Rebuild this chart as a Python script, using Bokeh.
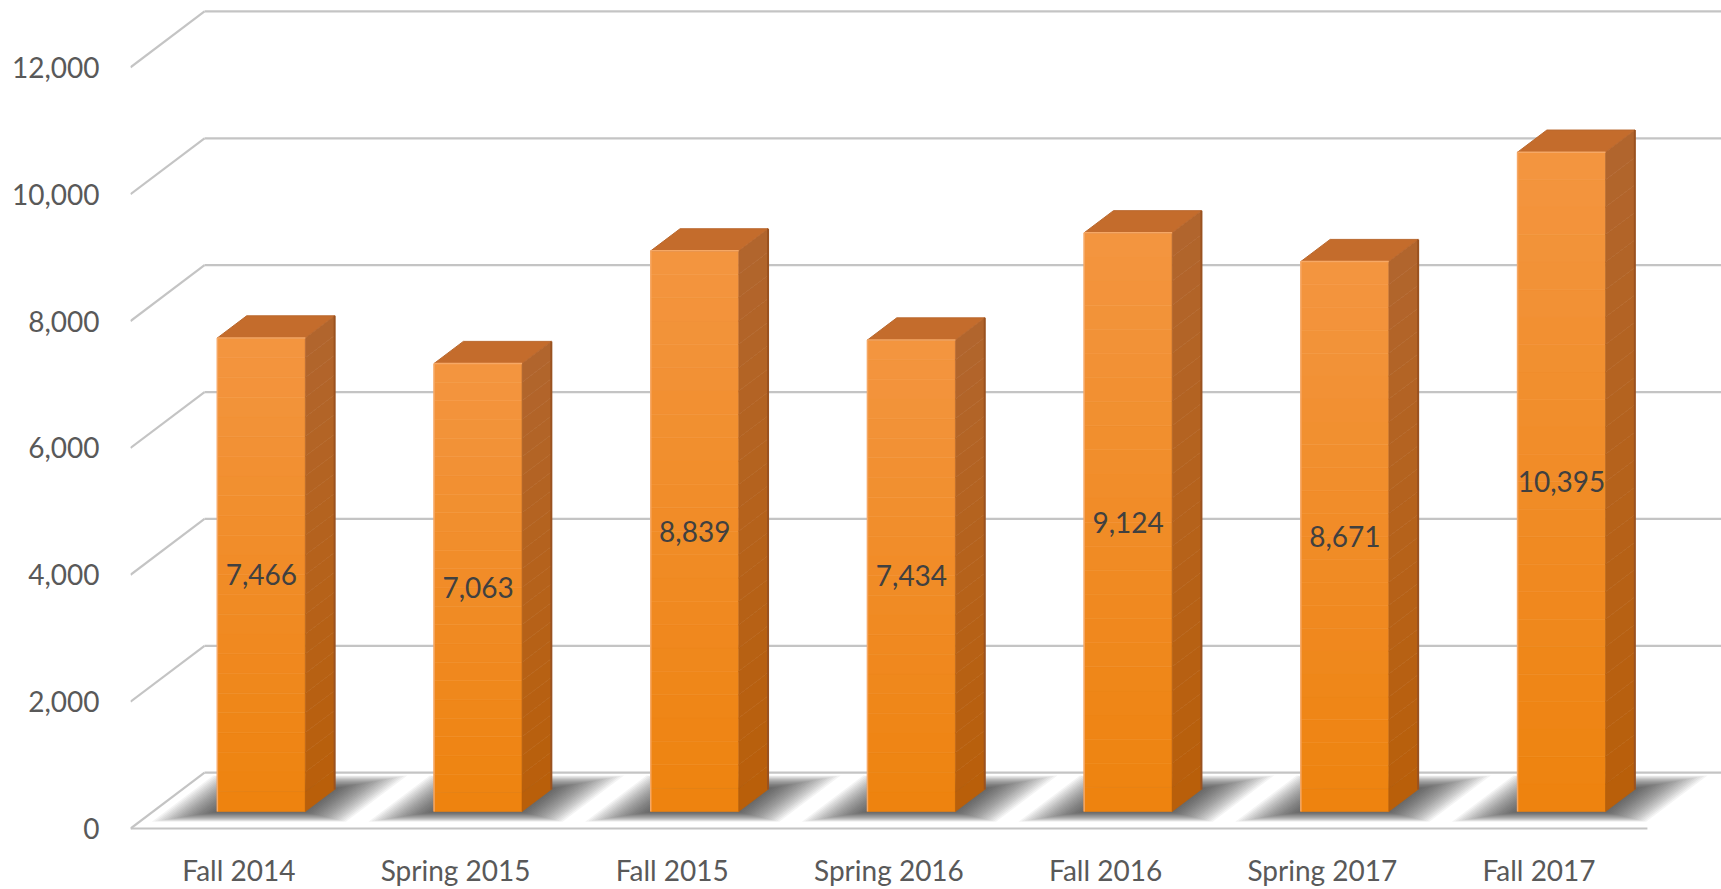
from bokeh.plotting import figure
from bokeh.models import Range1d, FixedTicker, NumeralTickFormatter, CustomJSTickFormatter
from bokeh.core.properties import value
from bokeh.embed import file_html
from bokeh.resources import INLINE

# ---- data ----
categories = ["Fall 2014", "Spring 2015", "Fall 2015", "Spring 2016",
              "Fall 2016", "Spring 2017", "Fall 2017"]
enrollment = [7466, 7063, 8839, 7434, 9124, 8671, 10395]
y_ticks = [0, 2000, 4000, 6000, 8000, 10000, 12000]

# ---- layout / projection (styling only) ----
W, H = 1721, 889
LEFT, BOTTOM = 130, 56
frame_w = W - LEFT
frame_h = H - BOTTOM
CAT_PX = 216.7
S = 763 / 12000      # px per value unit
ZERO_Y = 830         # px from top of frame for value 0 at front plane
DX = 74 / CAT_PX     # depth offset (x, category units)
DV = 56 / S          # depth offset (y, value units)
F0, F1 = 0.304, 0.70  # bar depth (front/back fraction)
BW = 0.406           # bar width (category units)

x_start, x_end = 0.0, frame_w / CAT_PX
y_start, y_end = -(frame_h - ZERO_Y) / S, ZERO_Y / S

p = figure(width=W, height=H, x_range=Range1d(x_start, x_end),
           y_range=Range1d(y_start, y_end), output_backend="svg",
           toolbar_location=None, min_border_left=LEFT, min_border_right=0,
           min_border_top=0, min_border_bottom=BOTTOM)
p.outline_line_color = None
p.grid.visible = False
p.background_fill_color = "white"
p.border_fill_color = "white"

FONT = "Lato"
for ax in (p.yaxis[0], p.xaxis[0]):
    ax.axis_line_color = None
    ax.major_tick_line_color = None
    ax.minor_tick_line_color = None
    ax.major_tick_out = 0
    ax.major_tick_in = 0
    ax.major_label_text_font = FONT
    ax.major_label_text_font_size = "28px"
    ax.major_label_text_color = "#595959"

p.yaxis.ticker = FixedTicker(ticks=y_ticks)
p.yaxis.formatter = NumeralTickFormatter(format="0,0")
p.yaxis.major_label_standoff = 31

n = len(categories)
p.xaxis.ticker = FixedTicker(ticks=[i + 0.5 for i in range(n)])
p.xaxis.formatter = CustomJSTickFormatter(args=dict(labels=categories),
                                          code="return labels[Math.round(tick - 0.5)];")
p.xaxis.major_label_standoff = 21

# ---- walls / gridlines ----
gx0, gy0, gx1, gy1 = [], [], [], []
for v in y_ticks:
    gx0 += [DX, 0]
    gy0 += [v + DV, v]
    gx1 += [n + DX + 0.05, DX]
    gy1 += [v + DV, v + DV]
gx0.append(0); gy0.append(0); gx1.append(n); gy1.append(0)
p.segment(gx0, gy0, gx1, gy1, line_color="#c4c4c4", line_width=2.2)

# ---- floor shadows (soft, layered) ----
NL = 22
for k in range(NL):
    t = k / (NL - 1)
    ml = 0.24 * (1 - t)
    mr = 0.25 * (1 - t)
    d0 = 0.12 * (1 - t) + 0.30 * t
    d1 = 0.95 * (1 - t) + 0.72 * t
    xs, ys = [], []
    for i in range(n):
        xl = i + 0.5 - BW / 2 - ml
        xr = i + 0.5 + BW / 2 + mr
        xs.append([xl + d0 * DX, xr + d0 * DX, xr + d1 * DX, xl + d1 * DX])
        ys.append([d0 * DV, d0 * DV, d1 * DV, d1 * DV])
    p.patches(xs, ys, fill_color="#2a2a2a", fill_alpha=0.05, line_color=None)

# ---- bars ----
def mix(c1, c2, t):
    a = [int(c1[k:k + 2], 16) for k in (1, 3, 5)]
    b = [int(c2[k:k + 2], 16) for k in (1, 3, 5)]
    return "#%02x%02x%02x" % tuple(round(a[j] + (b[j] - a[j]) * t) for j in range(3))

NB = 24
fl, fr, fb, ft, fc = [], [], [], [], []
sxs, sys_, scs = [], [], []
txs, tys = [], []
for i, v in enumerate(enrollment):
    xl = i + 0.5 - BW / 2
    xr = i + 0.5 + BW / 2
    for k in range(NB):
        t = k / (NB - 1)
        fl.append(xl + F0 * DX); fr.append(xr + F0 * DX)
        fb.append(F0 * DV + v * k / NB); ft.append(F0 * DV + v * (k + 1) / NB)
        fc.append(mix("#ee830f", "#f3953f", t))
        y_lo = v * k / NB
        y_hi = v * (k + 1) / NB
        sxs.append([xr + F0 * DX, xr + F1 * DX, xr + F1 * DX, xr + F0 * DX])
        sys_.append([y_lo + F0 * DV, y_lo + F1 * DV, y_hi + F1 * DV, y_hi + F0 * DV])
        scs.append(mix("#b95f0a", "#b1652d", t))
    txs.append([xl + F0 * DX, xr + F0 * DX, xr + F1 * DX, xl + F1 * DX])
    tys.append([v + F0 * DV, v + F0 * DV, v + F1 * DV, v + F1 * DV])

p.quad(left=fl, right=fr, bottom=fb, top=ft, fill_color=fc, line_color=fc, line_width=0.6)
p.patches(sxs, sys_, fill_color=scs, line_color=scs, line_width=0.6)
p.patches(txs, tys, fill_color="#c46c2c", line_color="#b9682e", line_width=1)

# subtle edges
ex0, ey0, ex1, ey1 = [], [], [], []
for i, v in enumerate(enrollment):
    xl = i + 0.5 - BW / 2
    xr = i + 0.5 + BW / 2
    ex0 += [xl + F0 * DX, xl + F0 * DX]
    ey0 += [F0 * DV, v + F0 * DV]
    ex1 += [xl + F0 * DX, xr + F0 * DX]
    ey1 += [v + F0 * DV, v + F0 * DV]
p.segment(ex0, ey0, ex1, ey1, line_color="#f6a865", line_width=1.5)
p.segment([i + 0.5 + BW / 2 + F1 * DX for i in range(n)], [F1 * DV] * n,
          [i + 0.5 + BW / 2 + F1 * DX for i in range(n)], [v + F1 * DV for v in enrollment],
          line_color="#9a5220", line_width=2)

# ---- data labels ----
p.text(x=[i + 0.5 + F0 * DX for i in range(n)],
       y=[v / 2 + F0 * DV for v in enrollment],
       text=[f"{v:,}" for v in enrollment],
       text_font=value(FONT), text_font_size="28px", text_color="#404040",
       text_align="center", text_baseline="middle")

open("out.html", "w").write(file_html(p, INLINE))
